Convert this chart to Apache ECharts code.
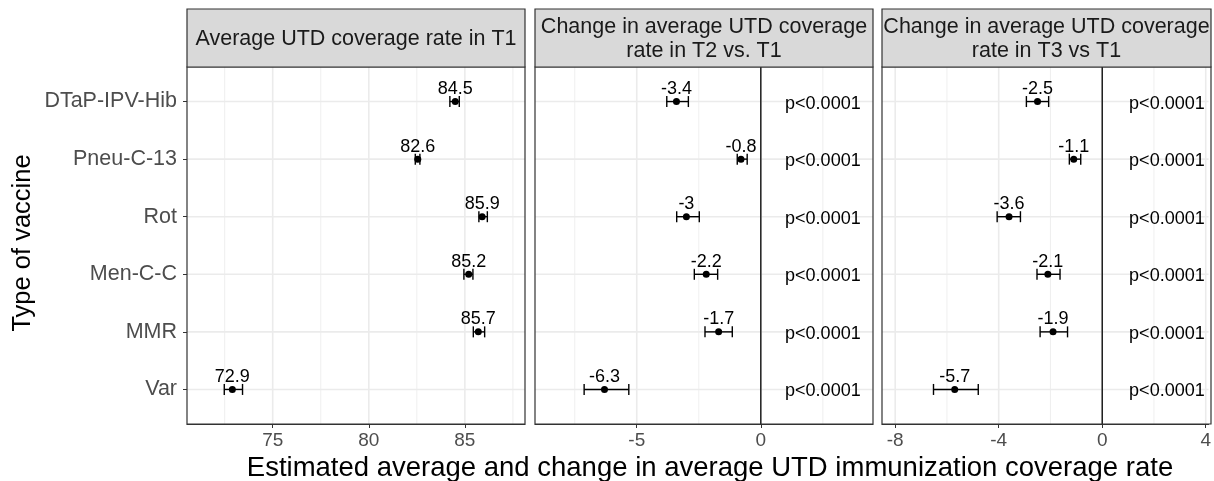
<!DOCTYPE html>
<html><head><meta charset="utf-8">
<script src="https://cdn.jsdelivr.net/npm/echarts@6/dist/echarts.min.js"></script>
<style>html,body{margin:0;padding:0;background:#fff}#c{width:1214px;height:481px}</style>
</head><body><div id="c"></div>
<script>
// ---------- data ----------
const vaccines = ['DTaP-IPV-Hib', 'Pneu-C-13', 'Rot', 'Men-C-C', 'MMR', 'Var'];
const panelTitles = [
  'Average UTD coverage rate in T1',
  'Change in average UTD coverage\nrate in T2 vs. T1',
  'Change in average UTD coverage\nrate in T3 vs T1'
];
const t1Est    = [84.5, 82.55, 85.9, 85.2, 85.7, 72.9];
const t1Low    = [84.22, 82.42, 85.73, 84.95, 85.44, 72.48];
const t1High   = [84.71, 82.66, 86.17, 85.42, 86.03, 73.43];
const t1Labels = ['84.5', '82.6', '85.9', '85.2', '85.7', '72.9'];

const t2Est    = [-3.4, -0.8, -3, -2.2, -1.7, -6.3];
const t2Low    = [-3.79, -0.95, -3.39, -2.68, -2.25, -7.12];
const t2High   = [-2.92, -0.55, -2.48, -1.74, -1.15, -5.32];
const t2Labels = ['-3.4', '-0.8', '-3', '-2.2', '-1.7', '-6.3'];
const t2P      = ['p<0.0001', 'p<0.0001', 'p<0.0001', 'p<0.0001', 'p<0.0001', 'p<0.0001'];

const t3Est    = [-2.5, -1.1, -3.6, -2.1, -1.9, -5.7];
const t3Low    = [-2.93, -1.27, -4.06, -2.52, -2.40, -6.52];
const t3High   = [-2.07, -0.83, -3.16, -1.63, -1.34, -4.79];
const t3Labels = ['-2.5', '-1.1', '-3.6', '-2.1', '-1.9', '-5.7'];
const t3P      = ['p<0.0001', 'p<0.0001', 'p<0.0001', 'p<0.0001', 'p<0.0001', 'p<0.0001'];

const pTextX = 2.5;
const xMajor1 = [75, 80, 85];      const xMinor1 = [72.5, 77.5, 82.5, 87.5];
const xMajor2 = [-5, 0];           const xMinor2 = [-7.5, -2.5, 2.5];
const xMajor3 = [-8, -4, 0, 4];    const xMinor3 = [-6, -2, 2];
const xRange1 = [70.54, 88.13];
const xRange2 = [-9.10, 4.52];
const xRange3 = [-8.51, 4.11];
const refLine2 = [0];
const refLine3 = [0];
const xTitle = 'Estimated average and change in average UTD immunization coverage rate';
const yTitle = 'Type of vaccine';

// ---------- layout ----------
const FONT = 'Liberation Sans, Arial, sans-serif';
const grids = [
  { left: 187, top: 67, width: 338, height: 357 },
  { left: 535, top: 67, width: 338, height: 357 },
  { left: 882, top: 67, width: 329, height: 357 }
];
const panels = [
  { est: t1Est, low: t1Low, high: t1High, labels: t1Labels, p: null, major: xMajor1, minor: xMinor1, range: xRange1, ref: [] },
  { est: t2Est, low: t2Low, high: t2High, labels: t2Labels, p: t2P, major: xMajor2, minor: xMinor2, range: xRange2, ref: refLine2 },
  { est: t3Est, low: t3Low, high: t3High, labels: t3Labels, p: t3P, major: xMajor3, minor: xMinor3, range: xRange3, ref: refLine3 }
];
const N = vaccines.length;
const rowY = i => N - i;
const rowVals = vaccines.map((v, i) => rowY(i));

const xAxes = [], yAxes = [], series = [], graphics = [];

panels.forEach((p, k) => {
  xAxes.push({
    gridIndex: k, type: 'value', min: p.range[0], max: p.range[1],
    axisLine: { show: true, lineStyle: { color: '#333333', width: 1 } },
    axisTick: { show: true, customValues: p.major, length: 4, lineStyle: { color: '#333333', width: 1 } },
    axisLabel: { show: true, customValues: p.major, color: '#4d4d4d', fontSize: 19, fontFamily: FONT, margin: 7 },
    splitLine: { show: false }
  });
  yAxes.push({
    gridIndex: k, type: 'value', min: 0.4, max: 6.6,
    axisLine: { show: false },
    axisTick: { show: k === 0, customValues: rowVals, length: 4, lineStyle: { color: '#333333', width: 1 } },
    axisLabel: { show: k === 0, customValues: rowVals, color: '#4d4d4d', fontSize: 21.5, fontFamily: FONT, margin: 10,
      formatter: v => vaccines[N - Math.round(v)] },
    splitLine: { show: false }
  });

  // grid lines (vertical minor / major, horizontal major)
  const vData = p.minor.map(v => [v, 0]).concat(p.major.map(v => [v, 1]));
  series.push({
    type: 'custom', xAxisIndex: k, yAxisIndex: k, z: 1, silent: true,
    data: vData,
    renderItem: (params, api) => {
      const cs = params.coordSys;
      const x = api.coord([api.value(0), 1])[0];
      const major = api.value(1) === 1;
      return { type: 'line', shape: { x1: x, y1: cs.y, x2: x, y2: cs.y + cs.height },
        style: { stroke: '#ebebeb', lineWidth: major ? 1.6 : 0.8 } };
    }
  });
  series.push({
    type: 'custom', xAxisIndex: k, yAxisIndex: k, z: 1, silent: true,
    data: rowVals.map(r => [p.range[0], r]),
    renderItem: (params, api) => {
      const cs = params.coordSys;
      const y = api.coord([api.value(0), api.value(1)])[1];
      return { type: 'line', shape: { x1: cs.x, y1: y, x2: cs.x + cs.width, y2: y },
        style: { stroke: '#ebebeb', lineWidth: 1.6 } };
    }
  });
  // reference line at 0
  if (p.ref.length) {
    series.push({
      type: 'custom', xAxisIndex: k, yAxisIndex: k, z: 2, silent: true,
      data: p.ref.map(v => [v, 1]),
      renderItem: (params, api) => {
        const cs = params.coordSys;
        const x = api.coord([api.value(0), 1])[0];
        return { type: 'line', shape: { x1: x, y1: cs.y, x2: x, y2: cs.y + cs.height },
          style: { stroke: '#000000', lineWidth: 1.3 } };
      }
    });
  }
  // error bars
  series.push({
    type: 'custom', xAxisIndex: k, yAxisIndex: k, z: 3, silent: true,
    data: p.low.map((l, i) => [l, rowY(i), p.high[i]]),
    encode: { x: [0, 2], y: 1 },
    renderItem: (params, api) => {
      const a = api.coord([api.value(0), api.value(1)]);
      const b = api.coord([api.value(2), api.value(1)]);
      const h = 5.5;
      const st = { stroke: '#000000', lineWidth: 1.4 };
      return { type: 'group', children: [
        { type: 'line', shape: { x1: a[0], y1: a[1], x2: b[0], y2: b[1] }, style: st },
        { type: 'line', shape: { x1: a[0], y1: a[1] - h, x2: a[0], y2: a[1] + h }, style: st },
        { type: 'line', shape: { x1: b[0], y1: b[1] - h, x2: b[0], y2: b[1] + h }, style: st }
      ] };
    }
  });
  // points with labels
  series.push({
    type: 'scatter', xAxisIndex: k, yAxisIndex: k, z: 4, silent: true,
    symbol: 'circle', symbolSize: 7,
    itemStyle: { color: '#000000', opacity: 1 },
    data: p.est.map((e, i) => [e, rowY(i), p.labels[i]]),
    label: { show: true, position: 'inside', offset: [0, -12.5], color: '#000000', fontSize: 18, fontFamily: FONT,
      formatter: prm => prm.data[2] }
  });
  // p-values
  if (p.p) {
    series.push({
      type: 'custom', xAxisIndex: k, yAxisIndex: k, z: 4, silent: true,
      data: p.p.map((t, i) => [pTextX, rowY(i), i]),
      renderItem: (params, api) => {
        const c = api.coord([api.value(0), api.value(1)]);
        return { type: 'text', x: c[0], y: c[1] + 2,
          style: { text: p.p[api.value(2)], fill: '#000000', fontSize: 18, fontFamily: FONT,
            align: 'center', verticalAlign: 'middle' } };
      }
    });
  }

  // panel border and strip
  const g = grids[k];
  graphics.push({ type: 'rect', z: 100, silent: true,
    shape: { x: g.left, y: g.top, width: g.width, height: g.height },
    style: { fill: 'none', stroke: '#333333', lineWidth: 1.2 } });
  graphics.push({ type: 'rect', z: 100, silent: true,
    shape: { x: g.left, y: 9, width: g.width, height: g.top - 9 },
    style: { fill: '#d9d9d9', stroke: '#333333', lineWidth: 1.2 } });
  graphics.push({ type: 'text', z: 101, silent: true,
    x: g.left + g.width / 2, y: (9 + g.top) / 2 + 1,
    style: { text: panelTitles[k], fill: '#1a1a1a', fontSize: 21.5, fontFamily: FONT, lineHeight: 24,
      align: 'center', verticalAlign: 'middle' } });
});

graphics.push({ type: 'text', z: 101, silent: true, x: 710, y: 468,
  style: { text: xTitle, fill: '#000000', fontSize: 27.5, fontFamily: FONT, align: 'center', verticalAlign: 'middle' } });
graphics.push({ type: 'text', z: 101, silent: true, x: 23, y: 243, rotation: Math.PI / 2,
  style: { text: yTitle, fill: '#000000', fontSize: 25.5, fontFamily: FONT, align: 'center', verticalAlign: 'middle' } });

const chart = echarts.init(document.getElementById('c'), null, { renderer: 'canvas' });
chart.setOption({
  animation: false,
  backgroundColor: '#ffffff',
  grid: grids.map(g => Object.assign({ containLabel: false, show: false }, g)),
  xAxis: xAxes,
  yAxis: yAxes,
  series: series,
  graphic: { elements: graphics }
});
</script>
</body></html>
